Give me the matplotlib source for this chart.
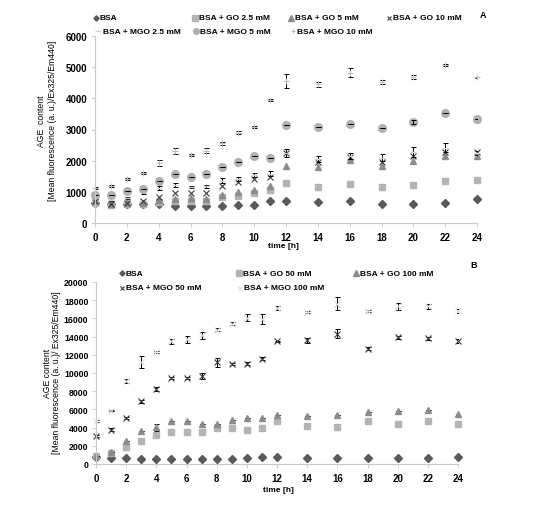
import matplotlib
matplotlib.use("Agg")
import matplotlib.pyplot as plt
from matplotlib.lines import Line2D
import numpy as np

plt.rcParams['font.family'] = ['Liberation Sans', 'DejaVu Sans']

# ---------------- data panel A ----------------
time_a = [0, 1, 2, 3, 4, 5, 6, 7, 8, 9, 10, 11, 12, 14, 16, 18, 20, 22, 24]
bsa_a = [650, 600, 620, 600, 620, 540, 540, 530, 550, 590, 590, 720, 710, 660, 690, 620, 600, 650, 770]
go25 = [650, 580, 620, 620, 680, 700, 720, 700, 830, 880, 950, 1050, 1280, 1140, 1240, 1140, 1220, 1360, 1380]
go5 = [700, 600, 650, 650, 750, 780, 800, 780, 900, 1000, 1050, 1180, 1820, 1790, 2010, 1840, 2000, 2160, 2140]
go10 = [700, 620, 650, 700, 850, 950, 950, 950, 1200, 1300, 1420, 1480, 2250, 1950, 2110, 1950, 2160, 2270, 2270]
mgo25 = [800, 750, 800, 980, 1120, 1220, 1150, 1180, 1350, 1420, 1550, 1580, 2250, 2050, 2150, 2100, 2280, 2420, 2250]
mgo25_err = [40, 40, 40, 60, 60, 60, 40, 50, 80, 60, 60, 80, 120, 100, 100, 100, 150, 150, 60]
mgo5 = [900, 900, 1020, 1100, 1350, 1570, 1480, 1570, 1800, 1970, 2150, 2100, 3150, 3080, 3170, 3040, 3240, 3530, 3340]
mgo5_err = [0, 0, 0, 0, 0, 0, 0, 0, 0, 0, 0, 0, 0, 0, 0, 0, 60, 0, 0]
mgo10 = [1120, 1180, 1400, 1600, 1920, 2320, 2180, 2320, 2560, 2900, 3080, 3950, 4550, 4450, 4820, 4520, 4680, 5080, 4680]
mgo10_err = [30, 30, 30, 40, 90, 100, 30, 90, 50, 60, 30, 30, 220, 80, 140, 70, 70, 30, 20]
labels_a = ['BSA', 'BSA + GO 2.5 mM', 'BSA + GO 5 mM', 'BSA + GO 10 mM',
            'BSA + MGO 2.5 mM', 'BSA + MGO 5 mM', 'BSA + MGO 10 mM']

# ---------------- data panel B ----------------
time_b = [0, 1, 2, 3, 4, 5, 6, 7, 8, 9, 10, 11, 12, 14, 16, 18, 20, 22, 24]
bsa_b = [720, 620, 620, 580, 600, 560, 560, 560, 560, 580, 620, 800, 730, 700, 700, 660, 660, 700, 810]
go50 = [840, 1210, 1900, 2500, 3230, 3560, 3560, 3490, 3930, 4000, 3780, 4000, 4700, 4180, 4040, 4700, 4440, 4700, 4370]
go100 = [840, 1360, 2500, 3600, 4040, 4700, 4700, 4440, 4440, 4880, 5030, 5030, 5390, 5280, 5390, 5760, 5830, 5900, 5540]
go100_err = [0, 0, 0, 0, 400, 0, 0, 0, 0, 0, 0, 0, 0, 0, 0, 0, 0, 0, 0]
mgo50 = [3050, 3780, 5100, 6900, 8250, 9430, 9430, 9650, 11190, 11010, 11010, 11560, 13470, 13580, 14310, 12690, 13940, 13830, 13540]
mgo50_err = [100, 150, 100, 150, 250, 100, 100, 300, 500, 100, 150, 150, 100, 300, 500, 200, 150, 150, 250]
mgo100 = [4700, 5870, 9100, 11200, 12290, 13470, 13690, 14130, 14750, 15410, 16070, 15960, 17140, 16700, 17610, 16810, 17320, 17320, 16810]
mgo100_err = [100, 100, 200, 700, 100, 300, 350, 350, 150, 150, 400, 550, 250, 150, 700, 150, 350, 300, 200]
labels_b = ['BSA', 'BSA + GO 50 mM', 'BSA + GO 100 mM', 'BSA + MGO 50 mM', 'BSA + MGO 100 mM']

W, H = 550, 510
fig = plt.figure(figsize=(W / 100, H / 100), dpi=100)


def ax_at(l, t, r, b):
    return fig.add_axes([l / W, 1 - b / H, (r - l) / W, (b - t) / H])


def style(ax, ymax, ystep, ylabsize):
    ax.set_xlim(0, 24)
    ax.set_ylim(0, ymax)
    ax.set_xticks(np.arange(0, 25, 2))
    ax.set_yticks(np.arange(0, ymax + 1, ystep))
    for s in ['top', 'right']:
        ax.spines[s].set_visible(False)
    for s in ['left', 'bottom']:
        ax.spines[s].set_color('#c8c8c8')
        ax.spines[s].set_linewidth(0.8)
    ax.tick_params(axis='both', colors='#c8c8c8', labelcolor='black', labelsize=7, length=3, width=0.6)
    ax.tick_params(axis='y', labelsize=ylabsize, pad=2.5)
    for lab in ax.get_xticklabels() + ax.get_yticklabels():
        lab.set_fontweight('bold')


def legend_entry(handle, label, xm, xt, y):
    ln = Line2D([xm / W], [1 - y / H], transform=fig.transFigure, linestyle='none',
                marker=handle.get_marker(), color=handle.get_color(),
                markersize=handle.get_markersize() * 0.75, markeredgewidth=handle.get_markeredgewidth())
    fig.add_artist(ln)
    fig.text(xt / W, 1 - y / H, label, fontsize=6, fontweight='bold', ha='left', va='center')


eb_kw = dict(ecolor='black', elinewidth=0.7, capsize=1.8, capthick=0.7, linestyle='none')

# ---------------- panel A ----------------
axA = ax_at(95, 37, 477, 224)
style(axA, 6000, 1000, 7)
hA = [
    axA.plot(time_a, bsa_a, 'D', color='#5a5a5a', ms=3.6, clip_on=False)[0],
    axA.plot(time_a, go25, 's', color='#b4b4b4', ms=5, clip_on=False)[0],
    axA.plot(time_a, go5, '^', color='#8c8c8c', ms=5, clip_on=False)[0],
    axA.plot(time_a, go10, 'x', color='#3c3c3c', ms=4, mew=0.8, clip_on=False)[0],
]
axA.errorbar(time_a, mgo25, yerr=mgo25_err, **eb_kw)
hA.append(axA.plot(time_a, mgo25, '_', color='#d0d0d0', ms=5, mew=1, clip_on=False)[0])
hA.append(axA.plot(time_a, mgo5, 'o', color='#b0b0b0', ms=5.5, clip_on=False)[0])
axA.errorbar(time_a, mgo5, yerr=mgo5_err, **eb_kw)
axA.errorbar(time_a, mgo10, yerr=mgo10_err, **eb_kw)
hA.append(axA.plot(time_a, mgo10, '+', color='#bdbdbd', ms=4, mew=0.8, clip_on=False)[0])

posA = [(96, 100, 19), (195, 199, 19), (291, 295, 19), (389, 393, 19),
        (98, 103, 32), (196, 200, 32), (293, 297, 32)]
for h, lab, (xm, xt, y) in zip(hA, labels_a, posA):
    legend_entry(h, lab, xm, xt, y)

fig.text(483 / W, 1 - 15 / H, 'A', fontsize=6.5, fontweight='bold', ha='center', va='center')
fig.text(283 / W, 1 - 247 / H, 'time [h]', fontsize=6, fontweight='bold', ha='center', va='center')
fig.text(42 / W, 1 - 121 / H, 'AGE  content', fontsize=6.2, rotation=90, ha='center', va='center')
fig.text(53 / W, 1 - 121 / H, '[Mean fluorescence (a. u.)/Ex325/Em440]', fontsize=6.2,
         rotation=90, ha='center', va='center')

# ---------------- panel B ----------------
axB = ax_at(96, 283, 458, 465)
style(axB, 20000, 2000, 6.3)
hB = [
    axB.plot(time_b, bsa_b, 'D', color='#5a5a5a', ms=3.6, clip_on=False)[0],
    axB.plot(time_b, go50, 's', color='#b4b4b4', ms=5, clip_on=False)[0],
]
axB.errorbar(time_b, go100, yerr=go100_err, **eb_kw)
hB.append(axB.plot(time_b, go100, '^', color='#8c8c8c', ms=5, clip_on=False)[0])
axB.errorbar(time_b, mgo50, yerr=mgo50_err, **eb_kw)
hB.append(axB.plot(time_b, mgo50, 'x', color='#3c3c3c', ms=4, mew=0.8, clip_on=False)[0])
axB.errorbar(time_b, mgo100, yerr=mgo100_err, **eb_kw)
hB.append(axB.plot(time_b, mgo100, 'x', color='#dadada', ms=4, mew=0.8, clip_on=False)[0])

posB = [(122, 126, 274), (239, 243, 274), (356, 360, 274),
        (122, 126, 289), (240, 244, 289)]
for h, lab, (xm, xt, y) in zip(hB, labels_b, posB):
    legend_entry(h, lab, xm, xt, y)

fig.text(474 / W, 1 - 266 / H, 'B', fontsize=6.5, fontweight='bold', ha='center', va='center')
fig.text(278 / W, 1 - 491 / H, 'time [h]', fontsize=6, fontweight='bold', ha='center', va='center')
fig.text(47 / W, 1 - 373 / H, 'AGE content', fontsize=6.2, rotation=90, ha='center', va='center')
fig.text(57 / W, 1 - 373 / H, '[Mean fluorescence (a. u.)/ Ex325/Em440]', fontsize=6.2,
         rotation=90, ha='center', va='center')

fig.savefig('out.png', dpi=100, facecolor='white')
